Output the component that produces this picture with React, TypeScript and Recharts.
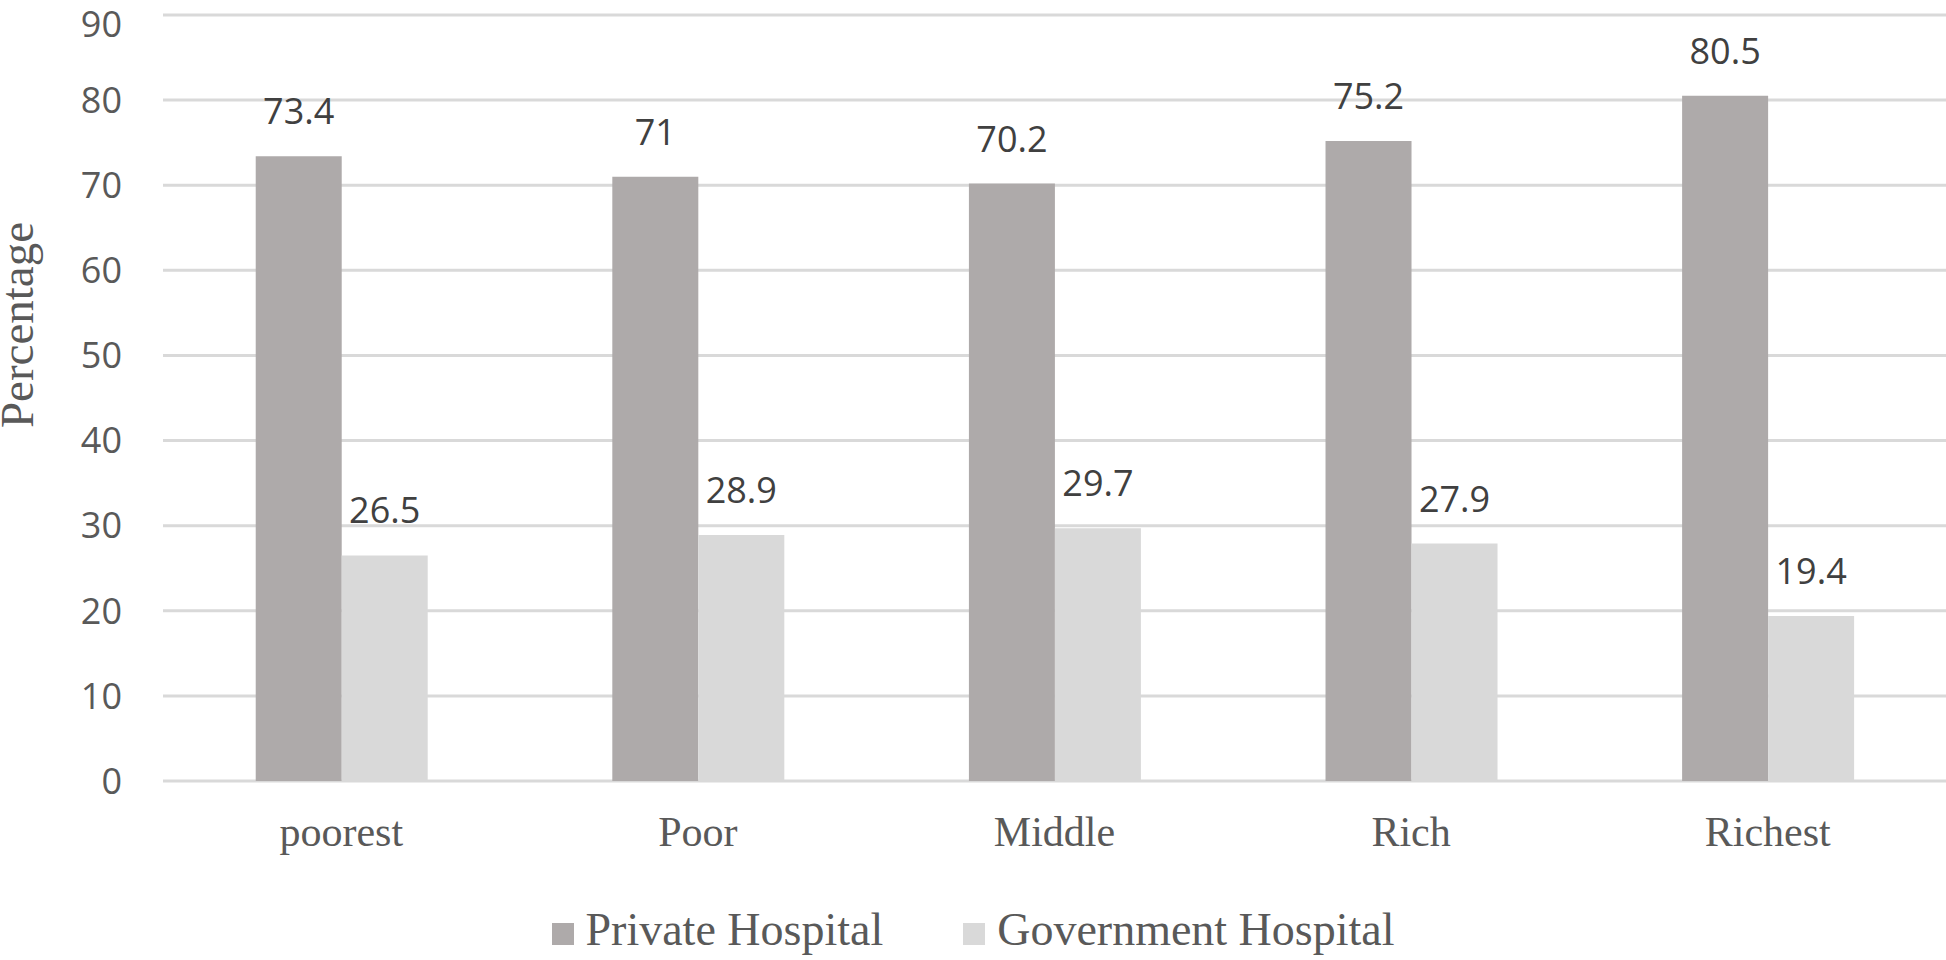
import type { JSX } from 'react';
import {
  BarChart,
  Bar,
  XAxis,
  YAxis,
  CartesianGrid,
  Legend,
  LabelList,
} from 'recharts';

const categories = ['poorest', 'Poor', 'Middle', 'Rich', 'Richest'];
const privateHospital = [73.4, 71, 70.2, 75.2, 80.5];
const governmentHospital = [26.5, 28.9, 29.7, 27.9, 19.4];
const yTicks = [0, 10, 20, 30, 40, 50, 60, 70, 80, 90];

const seriesList = [
  { key: 'private', name: 'Private Hospital', color: '#aeaaaa' },
  { key: 'government', name: 'Government Hospital', color: '#d9d9d9' },
];

const data = categories.map((name, i) => ({
  name,
  private: privateHospital[i],
  government: governmentHospital[i],
}));

const SANS = '"Open Sans", "Noto Sans", sans-serif';
const SERIF = '"Liberation Serif", "Times New Roman", serif';

function ChartLegend(): JSX.Element {
  return (
    <div
      style={{
        height: 60,
        lineHeight: '60px',
        textAlign: 'center',
        whiteSpace: 'nowrap',
        fontFamily: SERIF,
        fontSize: 46,
        color: '#595959',
      }}
    >
      {seriesList.map((s, i) => (
        <span key={s.key} style={{ display: 'inline-block', marginRight: i === 0 ? 80 : 0 }}>
          <span
            style={{
              display: 'inline-block',
              width: 22,
              height: 22,
              background: s.color,
              marginRight: 12,
              verticalAlign: 'baseline',
            }}
          />
          {s.name}
        </span>
      ))}
    </div>
  );
}

function YLabel(props: { viewBox?: { x: number; y: number; width: number; height: number } }): JSX.Element | null {
  const vb = props.viewBox;
  if (!vb) return null;
  const x = 33;
  const y = vb.y + vb.height / 2 - 73;
  return (
    <text
      x={x}
      y={y}
      transform={`rotate(-90, ${x}, ${y})`}
      textAnchor="middle"
      fontFamily={SERIF}
      fontSize={47}
      fill="#595959"
    >
      Percentage
    </text>
  );
}

export default function App(): JSX.Element {
  return (
    <div style={{ position: 'absolute', left: 0, top: 0, width: 1946, height: 960, background: '#fff' }}>
      <BarChart
        width={1946}
        height={960}
        data={data}
        margin={{ top: 15, right: 0, left: 0, bottom: 0 }}
        barCategoryGap="26%"
        barGap={0}
      >
        <CartesianGrid vertical={false} stroke="#d9d9d9" strokeWidth={3} />
        <XAxis
          dataKey="name"
          axisLine={false}
          tickLine={false}
          tickSize={0}
          tickMargin={35}
          height={119}
          interval={0}
          tick={{ fontFamily: SERIF, fontSize: 42, fill: '#595959' }}
        />
        <YAxis
          domain={[0, 90]}
          ticks={yTicks}
          axisLine={false}
          tickLine={false}
          tickSize={0}
          tickMargin={41}
          width={163}
          tick={{ fontFamily: SANS, fontSize: 36, fill: '#595959' }}
          label={{ content: (p: any) => <YLabel viewBox={p.viewBox} /> }}
        />
        <Legend verticalAlign="bottom" content={() => <ChartLegend />} />
        {seriesList.map((s) => (
          <Bar key={s.key} dataKey={s.key} name={s.name} fill={s.color} isAnimationActive={false}>
            <LabelList
              dataKey={s.key}
              position="top"
              offset={32}
              fill="#404040"
              style={{ fontFamily: SANS, fontSize: 36 }}
            />
          </Bar>
        ))}
      </BarChart>
    </div>
  );
}
